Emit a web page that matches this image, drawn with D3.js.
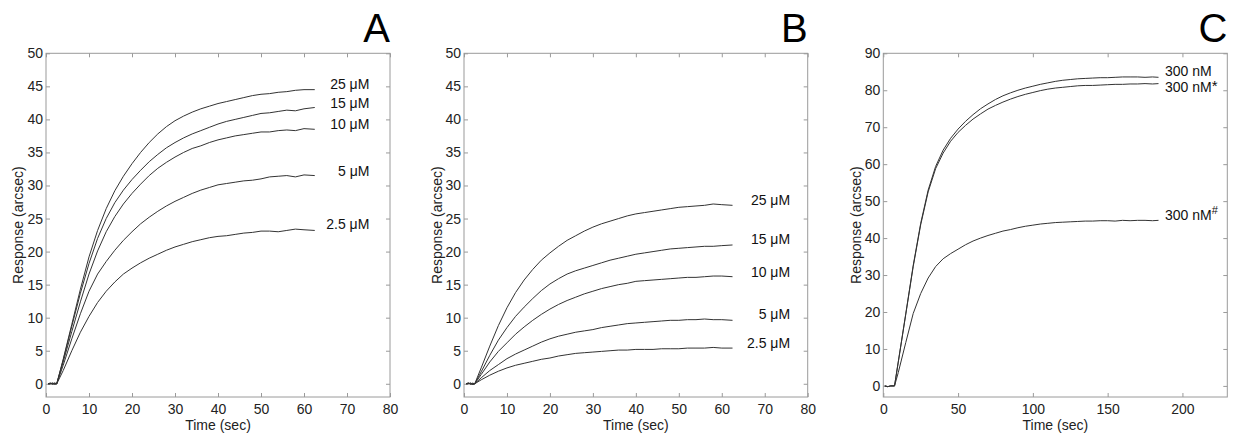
<!DOCTYPE html>
<html><head><meta charset="utf-8">
<script src="https://cdn.jsdelivr.net/npm/d3@7"></script>
<style>
body{margin:0;background:#fff}
svg{display:block}
text{font-family:"Liberation Sans",Arial,Helvetica,sans-serif}
</style>
</head><body>
<svg id="chart" width="1235" height="433"></svg>
<script>
// ---------- DATA ----------
const timeAB = [0.5,1,1.5,2,2.5,4,6,8,10,12,14,16,18,20,22,24,26,28,30,32,34,36,38,40,42,44,46,48,50,52,54,56,58,60,62.5];
const labelsAB = ["25 μM","15 μM","10 μM","5 μM","2.5 μM"];

const a25  = [0,0.1,-0.1,0.1,0, 3.7,9.0,14.3,19.2,23.2,26.5,29.2,31.4,33.3,35.0,36.5,37.8,38.9,39.8,40.5,41.1,41.6,42.0,42.4,42.7,43.0,43.3,43.6,43.8,43.9,44.1,44.2,44.4,44.5,44.5];
const a15  = [0,0,0.1,0,0, 3.6,8.7,13.7,18.2,22.0,25.0,27.4,29.3,30.9,32.3,33.6,34.7,35.7,36.5,37.2,37.8,38.3,38.8,39.3,39.7,40.0,40.3,40.6,40.9,41.0,41.2,41.4,41.3,41.6,41.8];
const a10  = [0,0.1,0,-0.1,0, 3.3,7.9,12.4,16.6,20.1,23.0,25.3,27.2,28.8,30.2,31.5,32.6,33.5,34.3,35.0,35.6,36.0,36.5,36.9,37.2,37.5,37.7,37.9,38.1,38.1,38.3,38.4,38.3,38.6,38.5];
const a5   = [0,0,0.1,0,0, 2.8,6.8,10.6,14.0,16.6,18.5,20.2,21.7,23.0,24.2,25.2,26.1,26.9,27.6,28.2,28.8,29.3,29.7,30.1,30.3,30.5,30.7,30.8,31.0,31.3,31.4,31.5,31.3,31.6,31.5];
const a2_5 = [0,0,0,0.1,0, 2.0,5.0,7.8,10.2,12.3,14.0,15.4,16.6,17.5,18.3,19.0,19.6,20.2,20.7,21.1,21.5,21.8,22.1,22.3,22.4,22.6,22.8,22.9,23.1,23.1,23.0,23.2,23.4,23.3,23.2];

const b25  = [0,0.1,-0.1,0.1,0, 2.4,5.7,8.8,11.5,13.8,15.7,17.3,18.7,19.8,20.8,21.7,22.4,23.1,23.7,24.2,24.6,25.0,25.4,25.7,25.9,26.1,26.3,26.5,26.7,26.8,26.9,27.0,27.2,27.1,27.0];
const b15  = [0,0,0.1,-0.1,0, 1.8,4.3,6.6,8.5,10.2,11.6,12.9,14.1,15.1,15.9,16.6,17.1,17.5,17.9,18.3,18.7,19.0,19.3,19.6,19.8,20.0,20.2,20.4,20.5,20.6,20.7,20.8,20.8,20.9,21.0];
const b10  = [0,0.1,0,0,0, 1.4,3.3,4.9,6.2,7.5,8.6,9.6,10.5,11.3,12.0,12.6,13.1,13.6,14.0,14.4,14.7,15.0,15.2,15.5,15.6,15.7,15.8,15.9,16.0,16.1,16.1,16.2,16.3,16.3,16.2];
const b5   = [0,0,0.1,0,0, 0.9,2.0,2.9,3.8,4.5,5.1,5.7,6.3,6.8,7.2,7.5,7.8,8.0,8.2,8.5,8.7,8.9,9.1,9.2,9.3,9.4,9.5,9.6,9.6,9.7,9.7,9.8,9.7,9.7,9.6];
const b2_5 = [0,0.1,0,-0.1,0, 0.6,1.3,1.9,2.4,2.8,3.1,3.4,3.7,3.9,4.2,4.4,4.6,4.7,4.8,4.9,5.0,5.1,5.1,5.2,5.2,5.2,5.3,5.3,5.3,5.4,5.4,5.4,5.5,5.4,5.4];

const timeC = [1,3,5,7.5,10,15,20,25,30,35,40,45,50,55,60,65,70,75,80,85,90,95,100,105,110,115,120,125,130,135,140,145,150,155,160,165,170,175,180,184];
const labelsC = [["300 nM",""],["300 nM","*"],["300 nM","#"]];
const c300     = [0,-0.2,0,0, 6.5,19.5,32.6,44.0,53.0,59.4,63.8,67.0,69.5,71.6,73.4,75.0,76.3,77.5,78.5,79.3,80.0,80.6,81.1,81.6,82.0,82.4,82.7,82.9,83.1,83.2,83.3,83.4,83.4,83.5,83.6,83.6,83.6,83.5,83.6,83.5];
const c300star = [0,-0.2,0,0, 6.4,19.3,32.3,43.6,52.5,58.8,63.0,66.2,68.6,70.5,72.2,73.6,74.9,75.9,76.8,77.6,78.3,78.9,79.4,79.9,80.3,80.6,80.8,81.0,81.2,81.3,81.3,81.4,81.5,81.6,81.6,81.7,81.7,81.8,81.7,81.8];
const c300hash = [0,-0.2,0,0, 3.6,11.7,19.6,25.0,29.2,32.3,34.4,35.8,37.0,38.2,39.2,40.0,40.7,41.3,41.9,42.3,42.8,43.2,43.5,43.8,44.0,44.2,44.3,44.4,44.5,44.6,44.6,44.7,44.7,44.6,44.8,44.7,44.8,44.8,44.7,44.8];

const ticksX_AB = [0,10,20,30,40,50,60,70,80];
const ticksY_AB = [0,5,10,15,20,25,30,35,40,45,50];
const ticksX_C  = [0,50,100,150,200];
const ticksY_C  = [0,10,20,30,40,50,60,70,80,90];

// ---------- DRAWING ----------
const svg = d3.select("#chart");
const FRAME = "#9a9a9a", INK = "#222", LINE = "#333";

const panels = [
  {letter:"A", left:46, right:390, xDomain:[0,80], yDomain:[-2,50], xTicks:ticksX_AB, yTicks:ticksY_AB,
   time:timeAB, series:[a25,a15,a10,a5,a2_5], labels:labelsAB.map(l=>[l,""]), labelX:75.2, anchor:"end", labelDy:[-5,-3,-4,-4,-5], yTitleX:19},
  {letter:"B", left:464, right:807.7, xDomain:[0,80], yDomain:[-2,50], xTicks:ticksX_AB, yTicks:ticksY_AB,
   time:timeAB, series:[b25,b15,b10,b5,b2_5], labels:labelsAB.map(l=>[l,""]), labelX:75.9, anchor:"end", labelDy:[-4.5,-4.5,-4,-5.5,-4], yTitleX:438},
  {letter:"C", left:883.3, right:1227.3, xDomain:[0,230], yDomain:[-3,90], xTicks:ticksX_C, yTicks:ticksY_C,
   time:timeC, series:[c300,c300star,c300hash], labels:labelsC, labelX:188.3, anchor:"start", labelDy:[-5.5,4,-4.5], yTitleX:857}
];
const TOP = 53.3, BOTTOM = 397;

panels.forEach(p => {
  const g = svg.append("g");
  const x = d3.scaleLinear().domain(p.xDomain).range([p.left, p.right]);
  const y = d3.scaleLinear().domain(p.yDomain).range([BOTTOM, TOP]);

  const styleAxis = sel => {
    sel.select(".domain").remove();
    sel.selectAll(".tick line").attr("stroke", FRAME);
    sel.selectAll(".tick text").attr("fill", INK).style("font-size","14px")
       .style("font-family",'"Liberation Sans",Arial,Helvetica,sans-serif');
  };
  g.append("g").attr("transform",`translate(0,${BOTTOM})`)
    .call(d3.axisBottom(x).tickValues(p.xTicks).tickSize(-4).tickPadding(7).tickFormat(d3.format("d"))).call(styleAxis);
  g.append("g").attr("transform",`translate(0,${TOP})`)
    .call(d3.axisTop(x).tickValues(p.xTicks).tickSize(-4).tickFormat("")).call(styleAxis);
  g.append("g").attr("transform",`translate(${p.left},0)`)
    .call(d3.axisLeft(y).tickValues(p.yTicks).tickSize(-4).tickPadding(3).tickFormat(d3.format("d"))).call(styleAxis);
  g.append("g").attr("transform",`translate(${p.right},0)`)
    .call(d3.axisRight(y).tickValues(p.yTicks).tickSize(-4).tickFormat("")).call(styleAxis);

  g.append("rect").attr("x",p.left).attr("y",TOP).attr("width",p.right-p.left).attr("height",BOTTOM-TOP)
    .attr("fill","none").attr("stroke",FRAME).attr("stroke-width",1);

  const line = d3.line().x((d,i)=>x(p.time[i])).y(d=>y(d));
  p.series.forEach((s,k) => {
    g.append("path").datum(s).attr("d",line).attr("fill","none")
      .attr("stroke",LINE).attr("stroke-width",1).attr("stroke-linejoin","round");
    const endY = y(s[s.length-1]) + p.labelDy[k];
    const t = g.append("text").attr("x", x(p.labelX)).attr("y", endY)
      .attr("text-anchor", p.anchor).attr("dominant-baseline","middle")
      .attr("fill","#111").style("font-size","14px");
    t.append("tspan").text(p.labels[k][0]);
    const sup = p.labels[k][1];
    if (sup === "*") t.append("tspan").attr("dy",-1).style("font-size","15px").text(sup);
    else if (sup) t.append("tspan").attr("dy",-5).style("font-size","11px").text(sup);
  });

  // axis titles
  g.append("text").attr("x",(p.left+p.right)/2).attr("y",430).attr("text-anchor","middle")
    .attr("fill",INK).style("font-size","14px").text("Time (sec)");
  g.append("text").attr("transform",`translate(${p.yTitleX},${(TOP+BOTTOM)/2}) rotate(-90)`)
    .attr("text-anchor","middle").attr("dominant-baseline","middle")
    .attr("fill",INK).style("font-size","14px").text("Response (arcsec)");

  // panel letter
  g.append("text").attr("x",p.right).attr("y",42).attr("text-anchor","end")
    .attr("fill","#000").style("font-size","40px").text(p.letter);
});
</script>
</body></html>
